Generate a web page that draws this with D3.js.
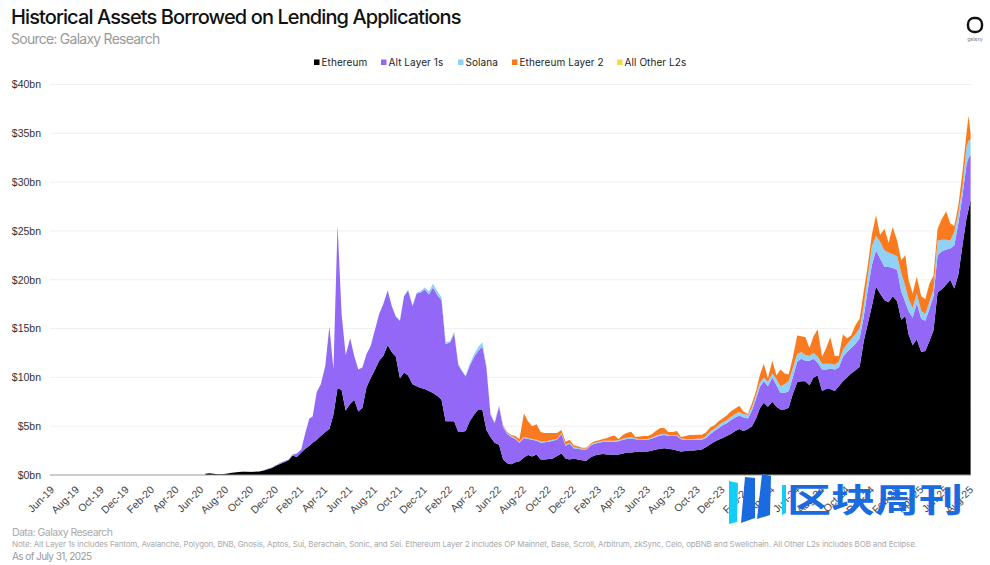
<!DOCTYPE html>
<html>
<head>
<meta charset="utf-8">
<title>Historical Assets Borrowed on Lending Applications</title>
<style>
body { margin: 0; background: #fff; }
svg { display: block; font-family: Inter, "Noto Sans", sans-serif; }
.tick line { display: none; }
.domain { display: none; }
</style>
</head>
<body>
<div id="chart"></div>
<script src="https://d3js.org/d3.v7.min.js"></script>
<script>
// values in $bn, three readings per month (1st, 11th, 21st) from 11 Jun 2020, last two are 26 and 31 Jul 2025
const ethereum = [
  .12,.17, .12,.08,.07, .12,.2,.25, .3,.34,.33, .32,.34,.36, .45,.6,.72, .95,1.12,1.3,
  1.5,2,1.85, 2.3,2.7,3, 3.3,3.6,4, 4.4,4.7,6.2, 8.9,8.7,6.6, 7.3,7.7,6.5, 6.9,9,9.9, 10.8,11.7,12.2, 13.3,12.6,12.1, 9.9,10.5,10.2, 9.3,9.1,8.9, 8.8,8.6,8.4,
  8.1,7.7,5.5, 5.5,5.5,4.4, 4.4,4.5,5.5, 6.2,6.7,6.7, 4.6,3.9,3.3, 3.1,1.6,1.2, 1.1,1.3,1.4, 1.8,2.05,1.9, 2.1,1.6,1.6, 1.65,1.7,1.95, 2.2,1.7,1.6, 1.7,1.6,1.5,
  1.45,1.8,2, 2.1,2.15,2.1, 2.1,2.05,2.1, 2.2,2.3,2.3, 2.35,2.35,2.4, 2.4,2.5,2.6, 2.7,2.75,2.7, 2.6,2.5,2.4, 2.45,2.5,2.5, 2.55,2.6,2.85, 3.15,3.4,3.6, 3.8,4,4.2,
  4.5,4.7,4.5, 4.7,5,5.8, 6.8,7.4,7, 7.5,7,6.7, 6.7,6.9,8.3, 9.5,9.6,9.6, 9.2,10,10.2, 8.6,8.8,8.8, 8.6,9.1,9.6, 10,10.4,10.7, 11.1,13.7,15.5, 17.3,19.3,18.6,
  17.9,17.7,18.3, 17.8,15.9,16.3, 14.4,13.3,13.9, 12.6,12.7,13.7, 14.8,18.7,19, 19.5,20,19.1, 20.5,23.5,26.3, 27.2,28.2
]
const altLayer1s = [
  0,0, 0,0,0, .01,.01,.01, .01,.01,.01, .01,.01,.02, .02,.03,.04, .05,.1,.1,
  .1,.1,.35, .3,1.6,2.8, 2.7,4.9,5.3, 6.8,10.5,4.6, 16.7,7.8,5.7, 6.7,4.5,4.3, 4.1,3.4,3.3, 4.1,4.8,5.3, 5.6,4.7,4.1, 5.9,7.8,8.7, 8,9.5,9.8, 10.2,9.9,10.8,
  10.3,10.2,7.9, 8.1,9,6.9, 6.3,5.6,5.7, 5.9,6,6.5, 6.4,2.3,2, 3.9,3.3,3, 2.8,2.4,1.9, 2,1.65,1.7, 1.4,1.7,1.75, 1.75,1.8,1.65, 2,1.3,1.6, 1.05,1.1,1.1,
  1.15,1.2,1.2, 1.2,1.25,1.3, 1.3,1.35,1.35, 1.4,1.4,1.45, 1.3,1.25,1.2, 1.2,1.25,1.3, 1.35,1.35,1.3, 1.4,1.5,1.25, 1.15,1.1,1.1, 1.05,1,.95, 1.05,1.1,1.2, 1.3,1.3,1.4,
  1.4,1.4,1.4, 1.1,1.6,2, 2.2,2.2,2.1, 2.5,2.2,1.7, 1.7,1.7,1.7, 2.1,2.3,2.1, 2.5,1.9,1.3, 2.2,2,2.1, 2.2,1.9,2.5, 2.6,2.6,2.7, 2.9,2.5,3.5, 4.2,3.7,3.6,
  3.4,3.6,2.9, 3.2,2.9,1.4, 2.4,2.8,3.7, 3.4,3.1,3.3, 3.5,3.8,3.9, 3.6,3.2,4.4, 5.3,5.1,5.5, 5.3,4.6
]
const solana = [
  0,0, 0,0,0, 0,0,0, 0,0,0, 0,0,0, 0,0,0, 0,0,0,
  0,0,0, 0,0,0, 0,0,0, 0,0,0, 0,0,0, 0,0,0, .03,.03,.03, .03,.03,.03, .03,.03,.05, .05,.05,.1, .1,.1,.15, .2,.3,.4,
  .4,.3,.2, .1,.2,.1, .1,.1,.2, .3,.4,.4, .2,.1,.1, .1,.1,.1, .1,.1,.1, .1,.1,.1, .1,.1,.1, .1,.1,.1, .1,.1,.1, .1,.1,.1,
  .1,.1,.1, .1,.1,.1, .1,.1,.1, .12,.12,.12, .1,.1,.1, .1,.1,.12, .12,.12,.1, .1,.1,.1, .1,.1,.1, .12,.12,.15, .25,.25,.3, .3,.3,.35,
  .35,.35,.35, .35,.35,.4, .4,.4,.45, .4,.6,.7, .9,1,.9, .8,.7,.6, .5,.6,.6, .6,.6,.5, .5,.6,.7, .8,.9,1, 1,1.1,1.4, 1.9,1.5,1.7,
  1.7,1.5,1.4, 1.4,1.9,1.6, 1.2,1,1, .8,.7,.7, .7,1.5,1.2, 1,.8,1.4, 1,.8,1.8, 1.7,1.6
]
const ethereumLayer2 = [
  0,0, 0,0,0, 0,0,0, 0,0,0, 0,0,0, 0,0,0, 0,0,0,
  0,0,0, 0,0,0, 0,0,0, 0,0,0, 0,0,0, 0,0,0, 0,0,0, 0,0,0, 0,0,0, 0,0,0, 0,0,0, 0,0,0,
  0,0,0, 0,0,0, 0,0,0, 0,0,0, 0,.02,.02, .05,.1,.1, .1,.2,.3, 2.4,1.7,1.3, 1.6,1,.85, .8,.7,.6, .3,.3,.3, .2,.15,.1,
  .1,.1,.15, .15,.2,.3, .45,.55,.15, .4,.5,.55, .15,.25,.3, .3,.35,.5, .65,.6,.3, .3,.4,.15, .3,.4,.4, .4,.4,.4, .45,.35,.4, .4,.5,.55,
  .55,.65,.25, .1,.4,.4, .8,1.4,.35, 1.3,.4,1.7, 1.1,.7,1.1, 1.9,1.6,1.8, .8,1.7,2.8, .7,1.6,2.7, .9,.6,1.6, .6,.4,.9, 1,1.5,1.1, 1.2,2.1,.7,
  2.2,1,2.8, 1.6,1.3,3.2, 2,1.5,1.7, 1.5,1.5,1.9, 1.4,1.2,2.1, 2.9,1.8,.6, .8,1.6,1.4, 2.6,.6
]
const allOtherL2s = [
  0,0, 0,0,0, 0,0,0, 0,0,0, 0,0,0, 0,0,0, 0,0,0,
  0,0,0, 0,0,0, 0,0,0, 0,0,0, 0,0,0, 0,0,0, 0,0,0, 0,0,0, 0,0,0, 0,0,0, 0,0,0, 0,0,0,
  0,0,0, 0,0,0, 0,0,0, 0,0,0, 0,0,0, 0,0,0, 0,0,0, 0,0,0, 0,0,0, 0,0,0, 0,0,0, 0,0,0,
  0,0,0, 0,0,0, 0,0,0, 0,0,0, 0,0,0, 0,0,0, 0,0,0, 0,0,0, 0,0,0, 0,0,0, 0,0,0, 0,0,0,
  0,0,0, 0,0,0, 0,0,0, 0,0,0, 0,0,0, .01,.01,.01, .02,.02,.02, .02,.02,.02, .02,.02,.03, .03,.03,.03, .03,.04,.04, .04,.05,.05,
  .05,.05,.05, .04,.04,.04, .03,.03,.03, .03,.03,.03, .04,.04,.05, .05,.05,.05, .05,.06,.06, .06,.06
]
const seriesNames = ["Ethereum", "Alt Layer 1s", "Solana", "Ethereum Layer 2", "All Other L2s"]
const seriesValues = [ethereum, altLayer1s, solana, ethereumLayer2, allOtherL2s]
const colors = ["#000000", "#9468f6", "#8fd2f6", "#f97a1f", "#f6d84a"]
const yTicks = [0, 5, 10, 15, 20, 25, 30, 35, 40]
const xTickLabels = ["Jun-19","Aug-19","Oct-19","Dec-19","Feb-20","Apr-20","Jun-20","Aug-20","Oct-20","Dec-20","Feb-21","Apr-21","Jun-21","Aug-21","Oct-21","Dec-21","Feb-22","Apr-22","Jun-22","Aug-22","Oct-22","Dec-22","Feb-23","Apr-23","Jun-23","Aug-23","Oct-23","Dec-23","Feb-24","Apr-24","Jun-24","Aug-24","Oct-24","Dec-24","Feb-25","Apr-25","Jun-25","Aug-25"]

const parseTick = d3.timeParse("%b-%y")
const dates = [new Date(2020, 5, 11), new Date(2020, 5, 21)]
d3.timeMonth.range(new Date(2020, 6, 1), new Date(2025, 7, 1)).forEach(m => {
    [1, 11, 21].forEach(day => dates.push(new Date(m.getFullYear(), m.getMonth(), day)))
})
dates.push(new Date(2025, 6, 26), new Date(2025, 6, 31))

const rows = dates.map((d, i) => {
    const row = {date: d}
    seriesNames.forEach((name, s) => row[name] = seriesValues[s][i])
    return row
})

const width = 990, height = 565
const svg = d3.select("#chart").append("svg").attr("width", width).attr("height", height)

const x = d3.scaleTime().domain([new Date(2019, 5, 1), new Date(2025, 7, 1)]).range([52, 971])
const y = d3.scaleLinear().domain([0, 40]).range([475, 84.5])

// gridlines and y labels
svg.append("g").selectAll("line").data(yTicks.slice(1)).enter().append("line")
    .attr("x1", 50).attr("x2", 971)
    .attr("y1", d => y(d)).attr("y2", d => y(d))
    .style("stroke", "#efefef")

const yAxis = d3.axisLeft(y).tickValues(yTicks).tickFormat(d => "$" + d + "bn").tickSize(0).tickPadding(9)
svg.append("g").attr("transform", "translate(50,0)").call(yAxis)
    .selectAll("text").style("font-size", "10.5px").style("fill", "#333")

const stack = d3.stack().keys(seriesNames)
const area = d3.area().x(d => x(d.data.date)).y0(d => y(d[0])).y1(d => y(d[1]))

svg.append("g").selectAll("path").data(stack(rows)).enter().append("path")
    .attr("d", area)
    .style("fill", (d, i) => colors[i])

svg.append("line").attr("x1", 50).attr("x2", 971).attr("y1", y(0)).attr("y2", y(0)).style("stroke", "#999")

const xAxis = d3.axisBottom(x).tickValues(xTickLabels.map(parseTick)).tickFormat(d3.timeFormat("%b-%y")).tickSize(0)
svg.append("g").attr("transform", "translate(0,475)").call(xAxis)
    .selectAll("text")
    .attr("text-anchor", "end")
    .attr("transform", "translate(-5,8) rotate(-45)")
    .style("font-size", "10.5px").style("fill", "#444")

// legend
const legendX = [314, 381, 458, 512, 617]
const legend = svg.append("g").selectAll("g").data(seriesNames).enter().append("g")
    .attr("transform", (d, i) => "translate(" + legendX[i] + ",62.5)")
legend.append("rect").attr("x", 0).attr("y", -3).attr("width", 5.5).attr("height", 5.5).style("fill", (d, i) => colors[i])
legend.append("text").attr("x", 7.5).attr("y", 3.5).text(d => d)
    .style("font-size", "10px").style("letter-spacing", "0.08px").style("fill", "#222")

// titles
svg.append("text").attr("x", 11).attr("y", 24).text("Historical Assets Borrowed on Lending Applications")
    .style("font-size", "20px").style("font-weight", 500).style("letter-spacing", "-0.9px").style("fill", "#111")
svg.append("text").attr("x", 11).attr("y", 43.5).text("Source: Galaxy Research")
    .style("font-size", "14px").style("letter-spacing", "-0.75px").style("fill", "#999")

// footer
const note = "Note: Alt Layer 1s includes Fantom, Avalanche, Polygon, BNB, Gnosis, Aptos, Sui, Berachain, Sonic, and Sei. Ethereum Layer 2 includes OP Mainnet, Base, Scroll, Arbitrum, zkSync, Celo, opBNB and Swellchain. All Other L2s includes BOB and Eclipse."
svg.append("text").attr("x", 12).attr("y", 536).text("Data: Galaxy Research")
    .style("font-size", "10.5px").style("letter-spacing", "-0.55px").style("fill", "#aaa")
svg.append("text").attr("x", 12).attr("y", 547).text(note)
    .style("font-size", "8px").style("letter-spacing", "-0.14px").style("fill", "#aaa")
svg.append("text").attr("x", 12).attr("y", 560).text("As of July 31, 2025")
    .style("font-size", "10px").style("letter-spacing", "-0.58px").style("fill", "#999")

// galaxy mark, top right
svg.append("rect").attr("x", 968).attr("y", 18).attr("width", 14).attr("height", 14).attr("rx", 6)
    .style("fill", "none").style("stroke", "#111").style("stroke-width", 2.4)
svg.append("text").attr("x", 975).attr("y", 41).attr("text-anchor", "middle").text("galaxy")
    .style("font-size", "5px").style("fill", "#777")

// 区块周刊 watermark sits on top of the chart
const mark = svg.append("g")
const bars = [
    ["#12cdf5", "M729,481L738,483L737,522L729,524Z"],
    ["#1a6be0", "M745,477L755,478L755,518L741,523Z"],
    ["#1a6be0", "M762,474L771,476L770,515L757,519Z"],
    ["#12cdf5", "M782,485L786,485L786,513L782,515Z"]
]
mark.selectAll("path").data(bars).enter().append("path").attr("d", d => d[1]).style("fill", d => d[0])
mark.append("text").attr("x", 787).attr("y", 512).text("区块周刊")
    .attr("textLength", 176).attr("lengthAdjust", "spacingAndGlyphs")
    .style("font-family", '"Noto Sans CJK SC"').style("font-size", "33px").style("font-weight", 700).style("fill", "#1a6be0")
</script>
</body>
</html>
